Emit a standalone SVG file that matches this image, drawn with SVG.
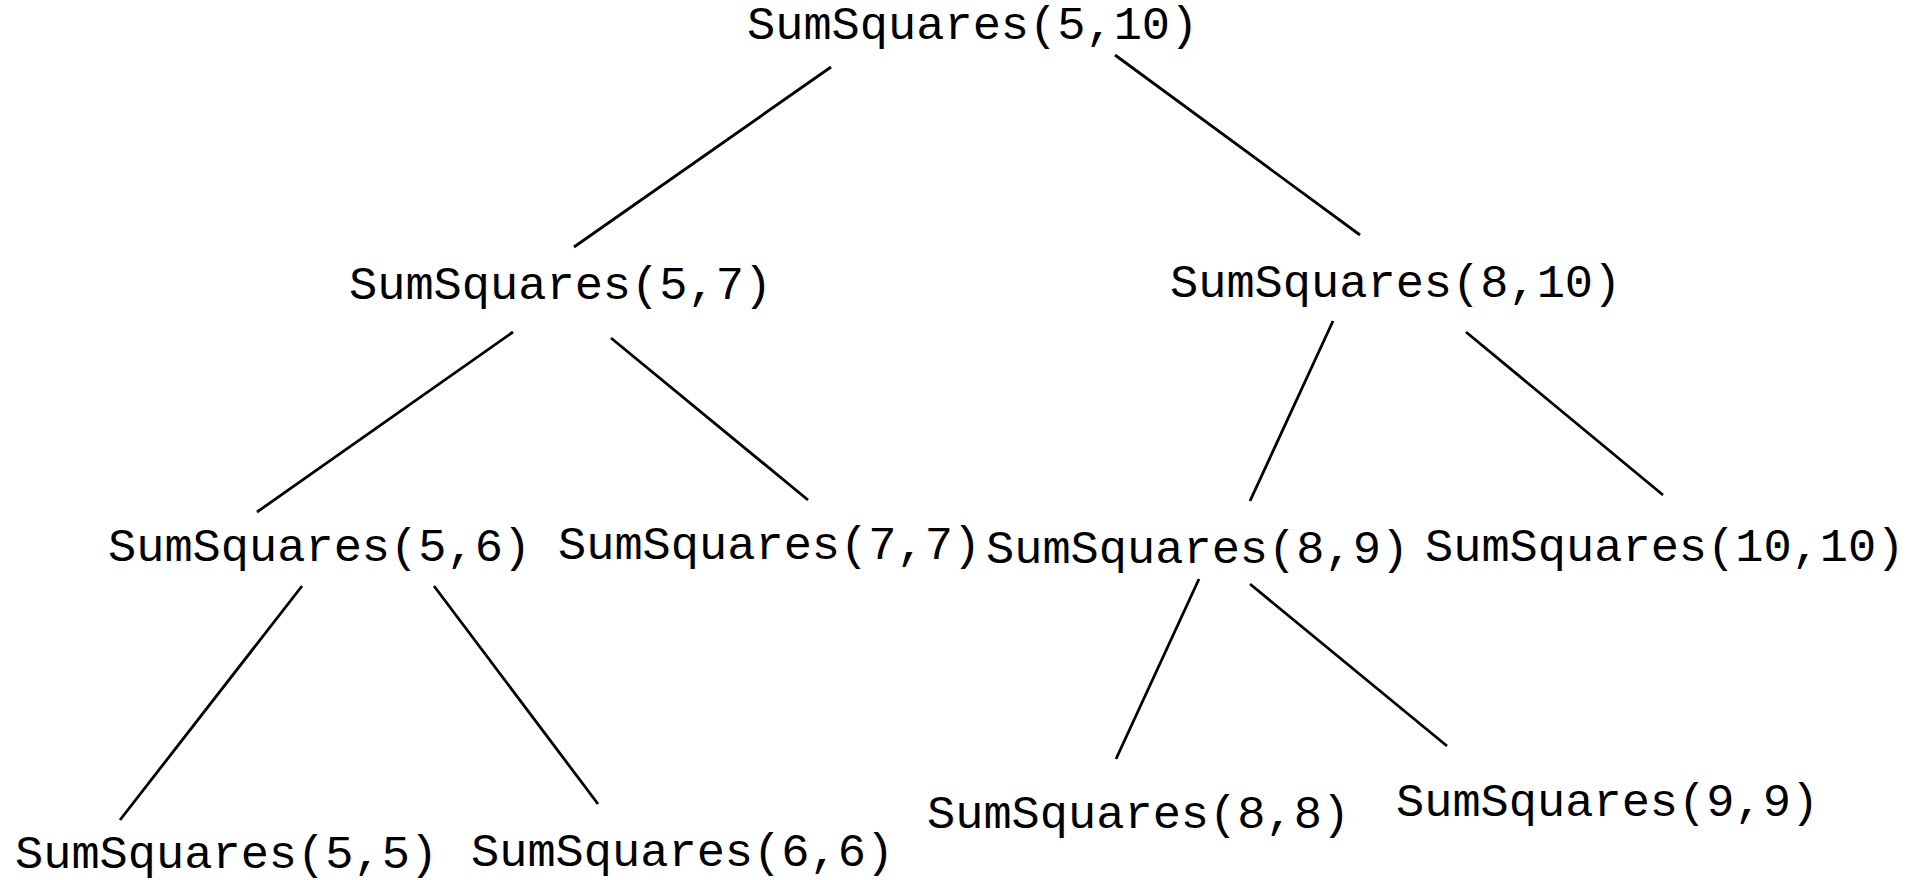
<svg xmlns="http://www.w3.org/2000/svg" width="1907" height="880" viewBox="0 0 1907 880">
<style>
.lbl{font-family:"Liberation Mono","DejaVu Sans Mono",monospace;font-size:47px;fill:#000}
.edge{stroke:#000;stroke-width:2.8;fill:none}
</style>
<rect width="1907" height="880" fill="#fff"/>
<g id="connectors">
<line class="edge" x1="831" y1="67" x2="574" y2="247"/>
<line class="edge" x1="1115" y1="55" x2="1360" y2="235"/>
<line class="edge" x1="513" y1="332" x2="257" y2="512"/>
<line class="edge" x1="611" y1="338" x2="808" y2="500"/>
<line class="edge" x1="1333" y1="321" x2="1250" y2="501"/>
<line class="edge" x1="1466" y1="332" x2="1663" y2="495"/>
<line class="edge" x1="302" y1="586" x2="120" y2="820"/>
<line class="edge" x1="434" y1="586" x2="598" y2="804"/>
<line class="edge" x1="1199" y1="579" x2="1116" y2="759"/>
<line class="edge" x1="1250" y1="584" x2="1447" y2="746"/>
</g>
<g id="n_5_10"><text class="lbl" x="747" y="39">SumSquares(5,10)</text></g>
<g id="n_5_7"><text class="lbl" x="349" y="299">SumSquares(5,7)</text></g>
<g id="n_8_10"><text class="lbl" x="1170" y="297">SumSquares(8,10)</text></g>
<g id="n_5_6"><text class="lbl" x="108" y="561">SumSquares(5,6)</text></g>
<g id="n_7_7"><text class="lbl" x="558" y="559">SumSquares(7,7)</text></g>
<g id="n_8_9"><text class="lbl" x="986" y="563">SumSquares(8,9)</text></g>
<g id="n_10_10"><text class="lbl" x="1425" y="561">SumSquares(10,10)</text></g>
<g id="n_5_5"><text class="lbl" x="15" y="868">SumSquares(5,5)</text></g>
<g id="n_6_6"><text class="lbl" x="471" y="866">SumSquares(6,6)</text></g>
<g id="n_8_8"><text class="lbl" x="927" y="828">SumSquares(8,8)</text></g>
<g id="n_9_9"><text class="lbl" x="1396" y="816">SumSquares(9,9)</text></g>
</svg>
